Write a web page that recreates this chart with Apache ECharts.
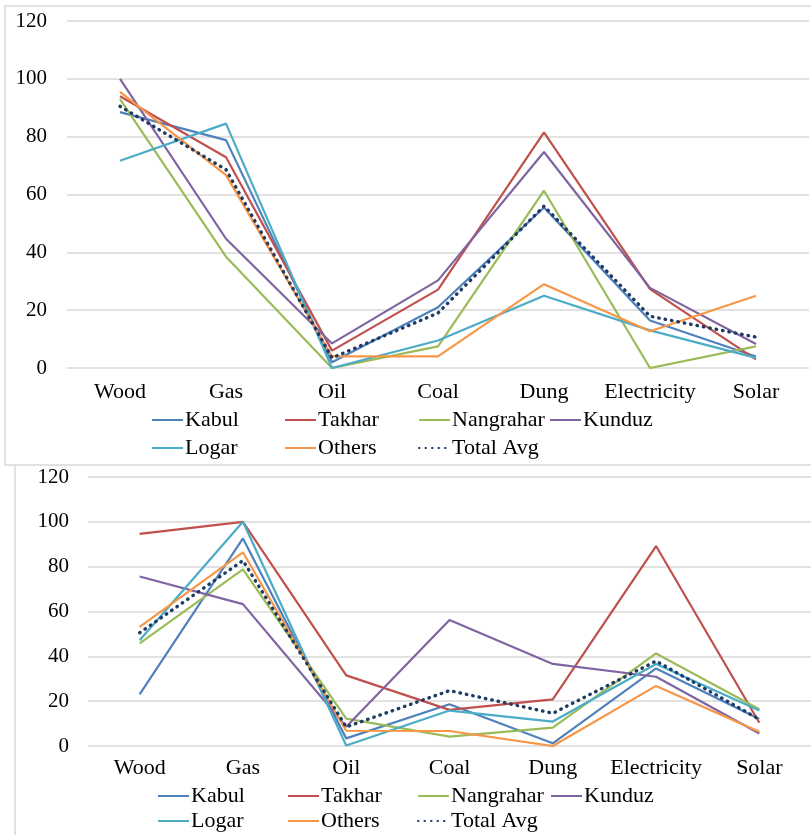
<!DOCTYPE html>
<html><head><meta charset="utf-8">
<script src="https://cdn.jsdelivr.net/npm/echarts@6/dist/echarts.min.js"></script>
<style>html,body{margin:0;padding:0;background:#fff}#c{width:811px;height:835px}</style>
</head><body><div id="c"></div>
<script>
const categories = ['Wood','Gas','Oil','Coal','Dung','Electricity','Solar'];
const seriesNames = ['Kabul','Takhar','Nangrahar','Kunduz','Logar','Others','Total Avg'];
const colors = ['#4F81BD','#C0504D','#9BBB59','#8064A2','#4BACC6','#F79646','#1F3B63'];

// Top panel values
const kabulA     = [88.5, 78.8, 2.0, 21.0, 55.5, 16.4, 4.0];
const takharA    = [94.0, 72.9, 6.0, 27.1, 81.5, 27.3, 3.0];
const nangraharA = [93.0, 38.5, 0.0, 7.5, 61.3, 0.0, 7.5];
const kunduzA    = [100.0, 44.7, 8.5, 30.3, 74.7, 27.7, 8.3];
const logarA     = [71.7, 84.5, 0.0, 9.5, 25.0, 13.0, 3.5];
const othersA    = [95.5, 66.7, 4.0, 4.0, 29.0, 12.7, 25.0];
const avgA       = [90.5, 68.6, 3.5, 19.0, 56.0, 17.9, 10.7];

// Bottom panel values
const kabulB     = [23.0, 92.6, 3.4, 18.6, 1.2, 34.6, 12.0];
const takharB    = [94.6, 100.0, 31.5, 16.1, 20.8, 89.2, 10.4];
const nangraharB = [45.8, 78.8, 12.2, 4.2, 8.2, 41.3, 16.4];
const kunduzB    = [75.6, 63.3, 8.6, 56.2, 36.6, 30.9, 5.6];
const logarB     = [47.2, 100.0, 0.2, 15.8, 10.9, 36.6, 15.8];
const othersB    = [53.1, 86.4, 6.8, 6.7, 0.0, 26.8, 6.4];
const avgB       = [50.5, 82.7, 8.5, 24.7, 14.6, 37.9, 11.9];

const yMin = 0, yMax = 120, yStep = 20;

const topData = [kabulA, takharA, nangraharA, kunduzA, logarA, othersA, avgA];
const botData = [kabulB, takharB, nangraharB, kunduzB, logarB, othersB, avgB];

const FONT = 'Liberation Serif';
const chart = echarts.init(document.getElementById('c'), null, {renderer: 'canvas'});

function mkSeries(dataSet, idx) {
  return dataSet.map((d, i) => ({
    name: seriesNames[i],
    type: 'line',
    xAxisIndex: idx, yAxisIndex: idx,
    data: d,
    symbol: 'none',
    smooth: false,
    animation: false,
    z: 2 + i,
    lineStyle: i === 6
      ? {color: colors[i], width: 3.4, type: [0.5, 6], cap: 'round'}
      : {color: colors[i], width: 2.2},
    itemStyle: {color: colors[i]}
  }));
}

function mkLegends(cols, rows) {
  const out = [];
  seriesNames.forEach((n, i) => {
    const r = i < 4 ? 0 : 1;
    const c = i < 4 ? i : i - 4;
    out.push({
      data: [n], left: cols[c], top: rows[r],
      itemWidth: 31, itemHeight: 12, padding: 0,
      itemStyle: {opacity: 0},
      textStyle: {fontFamily: FONT, fontSize: 22, color: '#000', padding: [0, 0, 0, -3]},
      selectedMode: false
    });
  });
  return out;
}

const xAxisBase = {
  type: 'category', data: categories, boundaryGap: true,
  axisLine: {show: false}, axisTick: {show: false},
  axisLabel: {fontFamily: FONT, fontSize: 22, color: '#000', interval: 0}
};
const yAxisBase = {
  type: 'value', min: yMin, max: yMax, interval: yStep,
  axisLine: {show: false}, axisTick: {show: false},
  splitLine: {lineStyle: {color: '#D9D9D9', width: 1.5}}
};

chart.setOption({
  backgroundColor: '#fff',
  animation: false,
  graphic: [
    {type: 'rect', shape: {x: 5, y: 6, width: 812, height: 459}, style: {fill: 'none', stroke: '#D9D9D9', lineWidth: 1.5}, z: 0},
    {type: 'line', shape: {x1: 15, y1: 466, x2: 15, y2: 840}, style: {stroke: '#D9D9D9', lineWidth: 1.5}, z: 0}
  ],
  grid: [
    {left: 67, right: 2, top: 21, bottom: 835 - 368, containLabel: false},
    {left: 88, right: 0, top: 477, bottom: 835 - 746, containLabel: false}
  ],
  xAxis: [
    Object.assign({}, xAxisBase, {gridIndex: 0, axisLabel: Object.assign({}, xAxisBase.axisLabel, {margin: 13})}),
    Object.assign({}, xAxisBase, {gridIndex: 1, axisLabel: Object.assign({}, xAxisBase.axisLabel, {margin: 11})})
  ],
  yAxis: [
    Object.assign({}, yAxisBase, {gridIndex: 0, axisLabel: {fontFamily: FONT, fontSize: 21, color: '#000', margin: 20}}),
    Object.assign({}, yAxisBase, {gridIndex: 1, axisLabel: {fontFamily: FONT, fontSize: 21, color: '#000', margin: 19}})
  ],
  legend: mkLegends([151, 284, 418, 549], [409, 437]).concat(mkLegends([157, 287, 417, 550], [785, 810])),
  series: mkSeries(topData, 0).concat(mkSeries(botData, 1))
});
</script>
</body></html>
